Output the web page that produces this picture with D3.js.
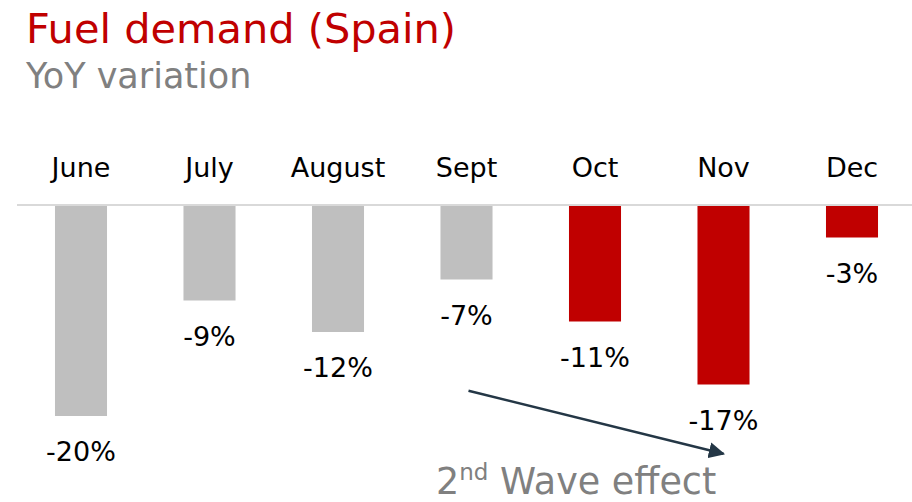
<!DOCTYPE html>
<html><head><meta charset="utf-8">
<script src="https://cdn.jsdelivr.net/npm/d3@7"></script>
<style>html,body{margin:0;padding:0;background:#fff;}svg{display:block;}</style>
</head><body>
<svg id="chart" width="912" height="502"></svg>
<script>
const months = ["June","July","August","Sept","Oct","Nov","Dec"];
const values = [-20,-9,-12,-7,-11,-17,-3];
const wave = [1,1,1,1,2,2,2];
const title = "Fuel demand (Spain)";
const subtitle = "YoY variation";

const W = 912, H = 502;
const FONT = "'DejaVu Sans',sans-serif";
const svg = d3.select("#chart");

const x = d3.scaleBand().domain(months).range([16.75, 916.25]).paddingInner(0.595).paddingOuter(0.2975);
const y = d3.scaleLinear().domain([0,-20]).range([206,416]);
const color = d3.scaleOrdinal().domain([1,2]).range(["#bfbfbf","#c00000"]);

svg.append("text").attr("x",26).attr("y",43).attr("font-family",FONT).attr("font-size",41.5)
  .attr("fill","#c00000").text(title);
svg.append("text").attr("x",26).attr("y",88).attr("font-family",FONT).attr("font-size",35)
  .attr("fill","#808080").text(subtitle);

// baseline
svg.append("line").attr("x1",17).attr("x2",W).attr("y1",y(0)-1).attr("y2",y(0)-1)
  .attr("stroke","#d9d9d9").attr("stroke-width",2);

const data = months.map((m,i)=>({m, v:values[i], w:wave[i]}));

svg.selectAll("text.month").data(data).join("text").attr("class","month")
  .attr("x",d=>x(d.m)+x.bandwidth()/2).attr("y",177).attr("text-anchor","middle")
  .attr("font-family",FONT).attr("font-size",27).attr("fill","#000").text(d=>d.m);

svg.selectAll("rect.bar").data(data).join("rect").attr("class","bar")
  .attr("x",d=>x(d.m)).attr("width",x.bandwidth())
  .attr("y",y(0)).attr("height",d=>y(d.v)-y(0))
  .attr("fill",d=>color(d.w));

svg.selectAll("text.val").data(data).join("text").attr("class","val")
  .attr("x",d=>x(d.m)+x.bandwidth()/2).attr("y",d=>y(d.v)+45).attr("text-anchor","middle")
  .attr("font-family",FONT).attr("font-size",27).attr("fill","#000").text(d=>d.v+"%");

// arrow annotation
const defs = svg.append("defs");
defs.append("marker").attr("id","ah").attr("viewBox","0 0 10 10").attr("refX",9).attr("refY",5)
  .attr("markerWidth",6.5).attr("markerHeight",6.5).attr("orient","auto")
  .append("path").attr("d","M0,0 L10,5 L0,10 z").attr("fill","#243746");
svg.append("line")
  .attr("x1",x("Sept")+x.bandwidth()/2+2).attr("y1",y(-17.6))
  .attr("x2",x("Nov")+x.bandwidth()/2).attr("y2",y(-23.6))
  .attr("stroke","#243746").attr("stroke-width",2.5).attr("marker-end","url(#ah)");

const t = svg.append("text").attr("x",436).attr("y",494).attr("font-family",FONT)
  .attr("font-size",36.5).attr("fill","#808080");
t.append("tspan").text("2");
t.append("tspan").attr("font-size",23).attr("dy",-14).text("nd");
t.append("tspan").attr("dy",14).text(" Wave effect");
</script>
</body></html>
